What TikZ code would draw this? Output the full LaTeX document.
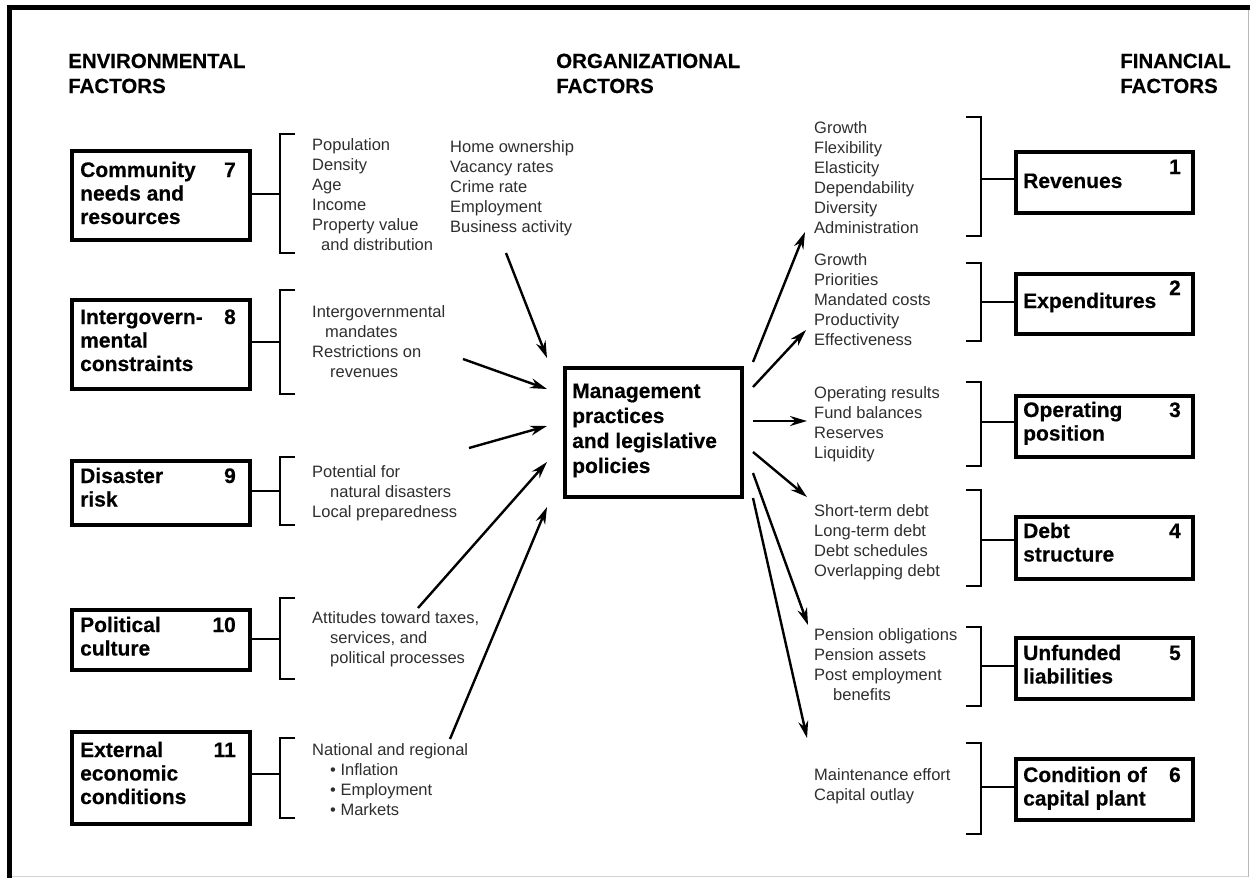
\documentclass[tikz,border=0pt]{standalone}
\usepackage{fontspec}
\setmainfont[BoldFeatures={FakeBold=0.4}]{Liberation Sans}
\usetikzlibrary{arrows.meta}
\newcommand\itemlist[1]{\begin{tabular}[t]{@{}l@{}}#1\end{tabular}}
\newcommand\itemfont{\fontsize{16.5}{20}\selectfont}
\newcommand\boxfont{\fontsize{21}{23.5}\selectfont\bfseries}
\newcommand\headfont{\fontsize{20.5}{25}\selectfont\bfseries}
\newcommand\ind[1]{\hspace*{#1pt}}
\begin{document}
\begin{tikzpicture}[x=1pt,y=-1pt,
  factbox/.style={draw,line width=3.8pt,inner sep=0,anchor=north west},
  lbl/.style={anchor=base west,inner sep=0,font=\boxfont},
  numtxt/.style={anchor=base east,inner sep=0,font=\boxfont},
  items/.style={anchor=base west,inner sep=0,font=\itemfont,text=black!82},
  hdr/.style={anchor=base west,inner sep=0,font=\headfont},
  brk/.style={line width=2.2pt},
  conn/.style={line width=2.2pt},
  arr/.style={line width=2.4pt,-{Stealth[length=17pt,width=10pt]}}]
\useasboundingbox (0,0) rectangle (1250,878);
% frame
\draw[line width=4.5pt] (7,7.3) -- (1250,7.3);
\draw[line width=5pt] (9.5,5) -- (9.5,878);
\draw[gray!55,line width=1.2pt] (1248.6,10) -- (1248.6,877);
\draw[gray!35,line width=1pt] (12,876.8) -- (1248,876.8);

% headers
\node[hdr] (hEnv) at (68,68) {\itemlist{ENVIRONMENTAL\\FACTORS}};
\node[hdr] (hOrg) at (556,68) {\itemlist{ORGANIZATIONAL\\FACTORS}};
\node[hdr] (hFin) at (1120,68) {\itemlist{FINANCIAL\\FACTORS}};

% ---------- left boxes ----------
\node[factbox,minimum width=178,minimum height=89] (b7) at (70,149) {};
\node[lbl] (l7) at (80,177) {\itemlist{Community\\needs and\\resources}};
\node[numtxt] (n7) at (236,177) {7};
\node[factbox,minimum width=178,minimum height=89] (b8) at (70,298) {};
\node[lbl] (l8) at (80,324) {\itemlist{Intergovern-\\mental\\constraints}};
\node[numtxt] (n8) at (236,324) {8};
\node[factbox,minimum width=178,minimum height=64] (b9) at (70,459) {};
\node[lbl] (l9) at (80,483) {\itemlist{Disaster\\risk}};
\node[numtxt] (n9) at (236,483) {9};
\node[factbox,minimum width=178,minimum height=60] (b10) at (70,608) {};
\node[lbl] (l10) at (80,632) {\itemlist{Political\\culture}};
\node[numtxt] (n10) at (236,632) {10};
\node[factbox,minimum width=178,minimum height=92] (b11) at (70,730) {};
\node[lbl] (l11) at (80,757) {\itemlist{External\\economic\\conditions}};
\node[numtxt] (n11) at (236,757) {11};

% left brackets and connectors
\coordinate (k7) at (280,194);
\draw[brk] (295,134) -- (280,134) -- (280,253) -- (295,253);
\draw[conn] (b7.east |- k7) -- (k7);
\coordinate (k8) at (280,342);
\draw[brk] (295,290) -- (280,290) -- (280,394) -- (295,394);
\draw[conn] (b8.east |- k8) -- (k8);
\coordinate (k9) at (280,491);
\draw[brk] (295,457) -- (280,457) -- (280,525) -- (295,525);
\draw[conn] (b9.east |- k9) -- (k9);
\coordinate (k10) at (280,639);
\draw[brk] (295,598) -- (280,598) -- (280,679) -- (295,679);
\draw[conn] (b10.east |- k10) -- (k10);
\coordinate (k11) at (280,774);
\draw[brk] (295,738) -- (280,738) -- (280,818) -- (295,818);
\draw[conn] (b11.east |- k11) -- (k11);

% left item lists
\node[items] (t7) at (312,150) {\itemlist{Population\\Density\\Age\\Income\\Property value\\\ind{9}and distribution}};
\node[items] (t8) at (312,317) {\itemlist{Intergovernmental\\\ind{13}mandates\\Restrictions on\\\ind{18}revenues}};
\node[items] (t9) at (312,477) {\itemlist{Potential for\\\ind{18}natural disasters\\Local preparedness}};
\node[items] (t10) at (312,623) {\itemlist{Attitudes toward taxes,\\\ind{18}services, and\\\ind{18}political processes}};
\node[items] (t11) at (312,755) {\itemlist{National and regional\\\ind{18}\textbullet\ Inflation\\\ind{18}\textbullet\ Employment\\\ind{18}\textbullet\ Markets}};
\node[items] (tOrg) at (450,152) {\itemlist{Home ownership\\Vacancy rates\\Crime rate\\Employment\\Business activity}};

% ---------- center box ----------
\node[factbox,minimum width=177,minimum height=129] (mgmt) at (563,366) {};
\node[lbl,font=\fontsize{21}{25}\selectfont\bfseries] (lm) at (572,398) {\itemlist{Management\\practices\\and legislative\\policies}};

% incoming arrows
\coordinate (i1s) at (506,253); \coordinate (i1e) at (547,358);
\coordinate (i2s) at (463,359); \coordinate (i2e) at (547,389);
\coordinate (i3s) at (469,448); \coordinate (i3e) at (547,426);
\coordinate (i4s) at (418,608); \coordinate (i4e) at (547,462);
\coordinate (i5s) at (450,739); \coordinate (i5e) at (547,507);
\draw[arr] (i1s) -- (i1e);
\draw[arr] (i2s) -- (i2e);
\draw[arr] (i3s) -- (i3e);
\draw[arr] (i4s) -- (i4e);
\draw[arr] (i5s) -- (i5e);

% outgoing arrows
\coordinate (o1s) at (753,362); \coordinate (o1e) at (805,232);
\coordinate (o2s) at (753,387); \coordinate (o2e) at (806,330);
\coordinate (o3s) at (753,421); \coordinate (o3e) at (807,421);
\coordinate (o4s) at (753,452); \coordinate (o4e) at (807,497);
\coordinate (o5s) at (753,473); \coordinate (o5e) at (808,625);
\coordinate (o6s) at (753,498); \coordinate (o6e) at (807,738);
\draw[arr] (o1s) -- (o1e);
\draw[arr] (o2s) -- (o2e);
\draw[arr] (o3s) -- (o3e);
\draw[arr] (o4s) -- (o4e);
\draw[arr] (o5s) -- (o5e);
\draw[arr] (o6s) -- (o6e);

% ---------- right item lists ----------
\node[items] (t1) at (814,133) {\itemlist{Growth\\Flexibility\\Elasticity\\Dependability\\Diversity\\Administration}};
\node[items] (t2) at (814,265) {\itemlist{Growth\\Priorities\\Mandated costs\\Productivity\\Effectiveness}};
\node[items] (t3) at (814,398) {\itemlist{Operating results\\Fund balances\\Reserves\\Liquidity}};
\node[items] (t4) at (814,516) {\itemlist{Short-term debt\\Long-term debt\\Debt schedules\\Overlapping debt}};
\node[items] (t5) at (814,640) {\itemlist{Pension obligations\\Pension assets\\Post employment\\\ind{19}benefits}};
\node[items] (t6) at (814,780) {\itemlist{Maintenance effort\\Capital outlay}};

% right brackets and connectors
\coordinate (r1) at (981,179);
\draw[brk] (966,117) -- (981,117) -- (981,236) -- (966,236);
\coordinate (r2) at (981,302);
\draw[brk] (966,263) -- (981,263) -- (981,341) -- (966,341);
\coordinate (r3) at (981,422);
\draw[brk] (966,382) -- (981,382) -- (981,466) -- (966,466);
\coordinate (r4) at (981,540);
\draw[brk] (966,490) -- (981,490) -- (981,586) -- (966,586);
\coordinate (r5) at (981,666);
\draw[brk] (966,627) -- (981,627) -- (981,706) -- (966,706);
\coordinate (r6) at (981,787);
\draw[brk] (966,743) -- (981,743) -- (981,834) -- (966,834);

% ---------- right boxes ----------
\node[factbox,minimum width=177,minimum height=61] (b1) at (1014,150) {};
\node[lbl] (l1) at (1023,188) {Revenues};
\node[numtxt] (n1) at (1181,174) {1};
\node[factbox,minimum width=177,minimum height=60] (b2) at (1014,272) {};
\node[lbl] (l2) at (1023,308) {Expenditures};
\node[numtxt] (n2) at (1181,295) {2};
\node[factbox,minimum width=177,minimum height=61] (b3) at (1014,394) {};
\node[lbl] (l3) at (1023,417) {\itemlist{Operating\\position}};
\node[numtxt] (n3) at (1181,417) {3};
\node[factbox,minimum width=177,minimum height=62] (b4) at (1014,515) {};
\node[lbl] (l4) at (1023,538) {\itemlist{Debt\\structure}};
\node[numtxt] (n4) at (1181,538) {4};
\node[factbox,minimum width=177,minimum height=61] (b5) at (1014,636) {};
\node[lbl] (l5) at (1023,660) {\itemlist{Unfunded\\liabilities}};
\node[numtxt] (n5) at (1181,660) {5};
\node[factbox,minimum width=177,minimum height=61] (b6) at (1014,757) {};
\node[lbl] (l6) at (1023,782) {\itemlist{Condition of\\capital plant}};
\node[numtxt] (n6) at (1181,782) {6};

\draw[conn] (r1) -- (b1.west |- r1);
\draw[conn] (r2) -- (b2.west |- r2);
\draw[conn] (r3) -- (b3.west |- r3);
\draw[conn] (r4) -- (b4.west |- r4);
\draw[conn] (r5) -- (b5.west |- r5);
\draw[conn] (r6) -- (b6.west |- r6);
\end{tikzpicture}
\end{document}
